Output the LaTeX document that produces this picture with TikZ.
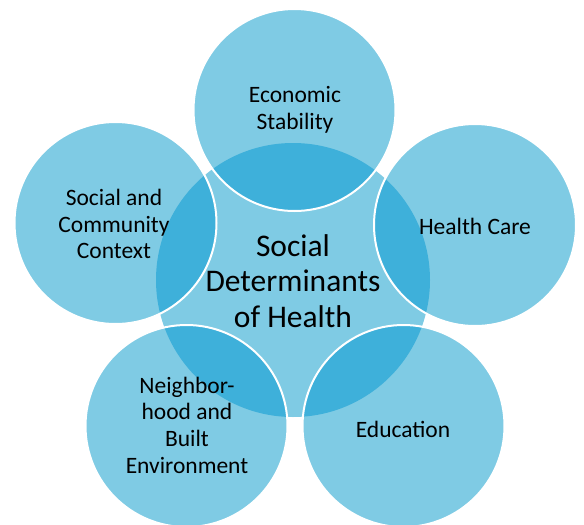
\documentclass[tikz,border=0pt]{standalone}
\usepackage{fontspec}
\setmainfont{Carlito}
\definecolor{lightb}{RGB}{127,203,228}
\definecolor{darkb}{RGB}{62,176,218}
\tikzset{
  outertext/.style={font=\fontsize{23.5}{26.7}\selectfont, align=center, text=black, inner sep=0pt},
  centertext/.style={font=\fontsize{31.5}{35.5}\selectfont, align=center, text=black, inner sep=0pt},
  ring/.style={draw=white, line width=2pt}
}
\begin{document}
\begin{tikzpicture}[x=1pt,y=-1pt]
\useasboundingbox (0,0) rectangle (584,525);
\coordinate (c0) at (293,280);
\coordinate (c1) at (294.5,110);
\coordinate (c2) at (475,225);
\coordinate (c3) at (403.5,426);
\coordinate (c4) at (186.5,426);
\coordinate (c5) at (115.5,223);
\fill[lightb] (c0) circle[radius=137pt];
\foreach \p in {c1,c2,c3,c4,c5} \fill[lightb] (\p) circle[radius=101pt];
\begin{scope}
  \clip (c0) circle[radius=137pt];
  \foreach \p in {c1,c2,c3,c4,c5} \fill[darkb] (\p) circle[radius=101pt];
\end{scope}
\foreach \p in {c1,c2,c3,c4,c5} \draw[ring] (\p) circle[radius=101pt];
\node[centertext] (t0) at (293,281) {Social\\Determinants\\of Health};
\node[outertext] (t1) at (295,110) {Economic\\Stability};
\node[outertext] (t2) at (475,226) {Health Care};
\node[outertext] (t3) at (403,429) {Education};
\node[outertext] (t4) at (187,425) {Neighbor-\\hood and\\Built\\Environment};
\node[outertext] (t5) at (114,224) {Social and\\Community\\Context};
\end{tikzpicture}
\end{document}
